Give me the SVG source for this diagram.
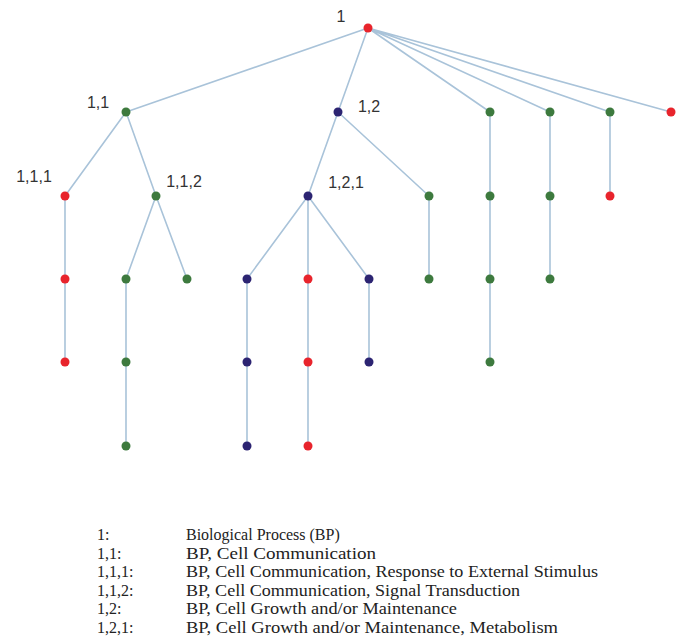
<svg xmlns="http://www.w3.org/2000/svg" width="682" height="643" viewBox="0 0 682 643">
<style>
.e{stroke:#a9c3d9;stroke-width:1.6;fill:none}
.r{fill:#e8242c}
.g{fill:#3d7a3e}
.b{fill:#2c2472}
.lb{font-family:"Liberation Sans",Arial,sans-serif;font-size:16px;fill:#333}
.lg{font-family:"Liberation Serif","Times New Roman",serif;font-size:16px;fill:#222}
</style>
<rect width="682" height="643" fill="#fff"/>
<g id="edges">
<path class="e" d="M368,28 L126,112 M368,28 L338,112 M368,28 L490,112 M368,28 L550,112 M368,28 L610,112 M368,28 L671,112
M126,112 L65,196 M126,112 L156,196 M338,112 L308,196 M338,112 L429,196
M490,112 V362 M550,112 V279 M610,112 V196 M429,196 V279
M65,196 V362 M156,196 L126,279 M156,196 L187,279 M126,279 V446
M308,196 L247,279 M308,196 V446 M308,196 L369,279 M247,279 V446 M369,279 V362"/>
</g>
<g id="n1"><circle class="r" cx="368" cy="28" r="4.5"/><text class="lb" x="341" y="22" text-anchor="middle">1</text></g>
<g id="n1_1"><circle class="g" cx="126" cy="112" r="4.5"/><text class="lb" x="98" y="108" text-anchor="middle">1,1</text></g>
<g id="n1_2"><circle class="b" cx="338" cy="112" r="4.5"/><text class="lb" x="369" y="112" text-anchor="middle">1,2</text></g>
<g id="n1_3"><circle class="g" cx="490" cy="112" r="4.5"/></g>
<g id="n1_4"><circle class="g" cx="550" cy="112" r="4.5"/></g>
<g id="n1_5"><circle class="g" cx="610" cy="112" r="4.5"/></g>
<g id="n1_6"><circle class="r" cx="671" cy="112" r="4.5"/></g>
<g id="n1_1_1"><circle class="r" cx="65" cy="196" r="4.5"/><text class="lb" x="34" y="182" text-anchor="middle">1,1,1</text></g>
<g id="n1_1_2"><circle class="g" cx="156" cy="196" r="4.5"/><text class="lb" x="184" y="187" text-anchor="middle">1,1,2</text></g>
<g id="n1_2_1"><circle class="b" cx="308" cy="196" r="4.5"/><text class="lb" x="346" y="188" text-anchor="middle">1,2,1</text></g>
<g id="n1_2_2"><circle class="g" cx="429" cy="196" r="4.5"/></g>
<g id="n1_3_1"><circle class="g" cx="490" cy="196" r="4.5"/></g>
<g id="n1_4_1"><circle class="g" cx="550" cy="196" r="4.5"/></g>
<g id="n1_5_1"><circle class="r" cx="610" cy="196" r="4.5"/></g>
<g id="n_a3"><circle class="r" cx="65" cy="279" r="4.5"/></g>
<g id="n_b3"><circle class="g" cx="126" cy="279" r="4.5"/></g>
<g id="n_c3"><circle class="g" cx="187" cy="279" r="4.5"/></g>
<g id="n_d3"><circle class="b" cx="247" cy="279" r="4.5"/></g>
<g id="n_e3"><circle class="r" cx="308" cy="279" r="4.5"/></g>
<g id="n_f3"><circle class="b" cx="369" cy="279" r="4.5"/></g>
<g id="n_g3"><circle class="g" cx="429" cy="279" r="4.5"/></g>
<g id="n_h3"><circle class="g" cx="490" cy="279" r="4.5"/></g>
<g id="n_i3"><circle class="g" cx="550" cy="279" r="4.5"/></g>
<g id="n_a4"><circle class="r" cx="65" cy="362" r="4.5"/></g>
<g id="n_b4"><circle class="g" cx="126" cy="362" r="4.5"/></g>
<g id="n_d4"><circle class="b" cx="247" cy="362" r="4.5"/></g>
<g id="n_e4"><circle class="r" cx="308" cy="362" r="4.5"/></g>
<g id="n_f4"><circle class="b" cx="369" cy="362" r="4.5"/></g>
<g id="n_h4"><circle class="g" cx="490" cy="362" r="4.5"/></g>
<g id="n_b5"><circle class="g" cx="126" cy="446" r="4.5"/></g>
<g id="n_d5"><circle class="b" cx="247" cy="446" r="4.5"/></g>
<g id="n_e5"><circle class="r" cx="308" cy="446" r="4.5"/></g>
<g id="legend" class="lg">
<text x="97" y="540">1:</text><text x="186" y="540">Biological Process (BP)</text>
<text x="97" y="558.6">1,1:</text><text x="186" y="558.6" textLength="190" lengthAdjust="spacingAndGlyphs">BP, Cell Communication</text>
<text x="97" y="577.2">1,1,1:</text><text x="186" y="577.2" textLength="412" lengthAdjust="spacingAndGlyphs">BP, Cell Communication, Response to External Stimulus</text>
<text x="97" y="595.8">1,1,2:</text><text x="186" y="595.8" textLength="334" lengthAdjust="spacingAndGlyphs">BP, Cell Communication, Signal Transduction</text>
<text x="97" y="614.4">1,2:</text><text x="186" y="614.4" textLength="271" lengthAdjust="spacingAndGlyphs">BP, Cell Growth and/or Maintenance</text>
<text x="97" y="633">1,2,1:</text><text x="186" y="633" textLength="372" lengthAdjust="spacingAndGlyphs">BP, Cell Growth and/or Maintenance, Metabolism</text>
</g>
</svg>
